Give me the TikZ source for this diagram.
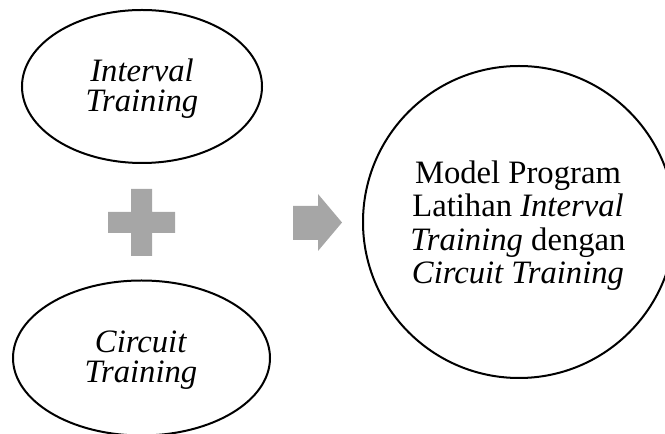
\documentclass[tikz,border=0pt]{standalone}
\usepackage{fontspec}
\setmainfont{Liberation Serif}
\usetikzlibrary{shapes.geometric}
\definecolor{shapegray}{RGB}{166,166,166}
\tikzset{
  outline/.style={draw=black, line width=1.5pt, inner sep=0pt, outer sep=0pt},
  oval/.style={outline, ellipse},
  roundbox/.style={outline, circle},
  sidetext/.style={align=center, inner sep=0pt, font=\fontsize{24.5}{22.5}\selectfont},
  maintext/.style={align=center, inner sep=0pt, font=\fontsize{24.5}{25}\selectfont},
  symbolfill/.style={fill=shapegray, draw=none},
}
\begin{document}
\begin{tikzpicture}[x=0.75pt, y=-0.75pt]
  \useasboundingbox (0,0) rectangle (665,434);
  \clip (0,0) rectangle (665,434);

  % the two source programmes
  \node[oval, minimum width=180pt, minimum height=114.75pt] (interval) at (142,86.5) {};
  \node[sidetext] (intervaltext) at (142,89) {\textit{Interval}\\\textit{Training}};

  \node[oval, minimum width=192.75pt, minimum height=116.25pt] (circuit) at (141.5,358) {};
  \node[sidetext] (circuittext) at (141,360) {\textit{Circuit}\\\textit{Training}};

  % combined model
  \node[roundbox, minimum size=234pt] (model) at (519,222) {};
  \node[maintext] (modeltext) at (518,225.5)
    {Model Program\\Latihan \textit{Interval}\\\textit{Training} dengan\\\textit{Circuit Training}};

  % plus sign between the two programmes
  \fill[symbolfill] (131,189) -- (152,189) -- (152,212) -- (175,212) -- (175,233)
    -- (152,233) -- (152,256) -- (131,256) -- (131,233) -- (108,233)
    -- (108,212) -- (131,212) -- cycle;

  % block arrow towards the model
  \fill[symbolfill] (293,206) -- (318,206) -- (318,194) -- (342,222.5)
    -- (318,251) -- (318,240) -- (293,240) -- cycle;
\end{tikzpicture}
\end{document}
